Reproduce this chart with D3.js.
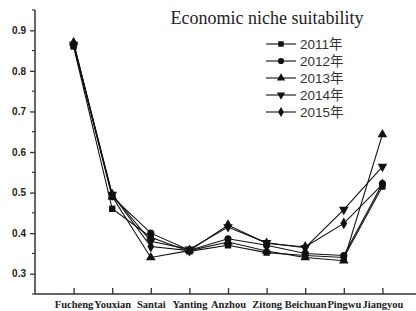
<!DOCTYPE html>
<html>
<head>
<meta charset="utf-8">
<script src="https://cdn.jsdelivr.net/npm/d3@7"></script>
<style>
  body { margin: 0; background: #fff; }
  svg { display: block; }
</style>
</head>
<body>
<script>
// counties along the x axis
var counties = ["Fucheng", "Youxian", "Santai", "Yanting", "Anzhou", "Zitong", "Beichuan", "Pingwu", "Jiangyou"];

var years = ["2011年", "2012年", "2013年", "2014年", "2015年"];

var v2011 = [0.860, 0.460, 0.390, 0.355, 0.370, 0.352, 0.345, 0.340, 0.515];
var v2012 = [0.862, 0.490, 0.400, 0.358, 0.386, 0.370, 0.350, 0.345, 0.522];
var v2013 = [0.870, 0.490, 0.340, 0.357, 0.378, 0.356, 0.340, 0.332, 0.643];
var v2014 = [0.865, 0.495, 0.380, 0.360, 0.415, 0.376, 0.364, 0.458, 0.564];
var v2015 = [0.868, 0.495, 0.367, 0.357, 0.420, 0.375, 0.366, 0.424, 0.520];

var yTicks = [0.3, 0.4, 0.5, 0.6, 0.7, 0.8, 0.9];
var yMinor = [0.25, 0.35, 0.45, 0.55, 0.65, 0.75, 0.85, 0.95];

var series = [v2011, v2012, v2013, v2014, v2015];
var shapes = [d3.symbolSquare, d3.symbolCircle, d3.symbolTriangle, d3.symbolTriangle, d3.symbolDiamond];

var W = 416, H = 311;
var margin = {left: 35, top: 10, right: 0, bottom: 17};

var svg = d3.select("body").append("svg")
  .attr("width", W)
  .attr("height", H);

var x = d3.scaleLinear()
  .domain([0, 10])
  .range([margin.left, margin.left + 386]);

var y = d3.scaleLinear()
  .domain([0.25, 0.95])
  .range([H - margin.bottom, margin.top]);

// y axis: majors with labels, minors without, ticks pointing out
svg.append("g")
  .attr("transform", "translate(" + margin.left + ",0)")
  .call(d3.axisLeft(y).tickValues(yTicks).tickSize(5).tickPadding(4).tickFormat(d3.format(".1f")))
  .call(function(g) {
    g.select(".domain").attr("stroke", "#333").attr("stroke-width", 1.5).attr("d", "M0," + y(0.25) + "V" + y(0.95));
    g.selectAll(".tick line").attr("stroke", "#333").attr("stroke-width", 1.3);
    g.selectAll(".tick text")
      .attr("font-family", "Liberation Sans, Arial, sans-serif")
      .attr("font-weight", "bold")
      .attr("font-size", 10)
      .attr("fill", "#222");
  });

svg.append("g")
  .selectAll("line")
  .data(yMinor)
  .enter()
    .append("line")
      .attr("x1", margin.left - 3)
      .attr("x2", margin.left)
      .attr("y1", function(d) { return y(d); })
      .attr("y2", function(d) { return y(d); })
      .attr("stroke", "#333")
      .attr("stroke-width", 1.2);

// x axis: ticks pointing inward (up)
svg.append("g")
  .attr("transform", "translate(0," + y(0.25) + ")")
  .call(d3.axisBottom(x).tickValues(d3.range(1, 10)).tickSize(-6).tickPadding(5)
    .tickFormat(function(d) { return counties[d - 1]; }))
  .call(function(g) {
    g.select(".domain").attr("stroke", "#333").attr("stroke-width", 1.5).attr("d", "M" + margin.left + ",0H" + W);
    g.selectAll(".tick text")
      .attr("y", 7)
      .attr("font-family", "Liberation Serif, Times New Roman, serif")
      .attr("font-weight", "bold")
      .attr("font-size", 10.5)
      .attr("fill", "#222");
    g.selectAll(".tick line").attr("stroke", "#333").attr("stroke-width", 1.3);
  });

var line = d3.line()
  .x(function(d, i) { return x(i + 1); })
  .y(function(d) { return y(d); });

function symbolPath(k, size) {
  return d3.symbol().type(shapes[k]).size(size)();
}

function symbolRotate(k) {
  return k == 3 ? " rotate(180)" : "";
}

series.forEach(function(s, k) {
  svg.append("path")
    .datum(s)
    .attr("d", line)
    .attr("fill", "none")
    .attr("stroke", "#111")
    .attr("stroke-width", 1.1);

  svg.append("g")
    .selectAll("path")
    .data(s)
    .enter()
      .append("path")
        .attr("d", symbolPath(k, 40))
        .attr("transform", function(d, i) {
          return "translate(" + x(i + 1) + "," + y(d) + ")" + symbolRotate(k);
        })
        .attr("fill", "#111");
});

// title
svg.append("text")
  .attr("x", 267)
  .attr("y", 24)
  .attr("text-anchor", "middle")
  .attr("font-family", "Liberation Serif, Times New Roman, serif")
  .attr("font-size", 18)
  .attr("fill", "#222")
  .text("Economic niche suitability");

// legend
var legend = svg.append("g")
  .selectAll("g")
  .data(years)
  .enter()
    .append("g")
      .attr("transform", function(d, i) { return "translate(266," + (44 + i * 17) + ")"; });

legend.append("line")
  .attr("x1", 0)
  .attr("x2", 30)
  .attr("stroke", "#111")
  .attr("stroke-width", 1.1);

legend.append("path")
  .attr("d", function(d, i) { return symbolPath(i, 30); })
  .attr("transform", function(d, i) { return "translate(15,0)" + symbolRotate(i); })
  .attr("fill", "#111");

legend.append("text")
  .attr("x", 34)
  .attr("y", 4.5)
  .attr("font-family", "Liberation Sans, Arial, 'Noto Sans CJK SC', sans-serif")
  .attr("font-size", 13.5)
  .attr("fill", "#333")
  .text(function(d) { return d; });
</script>
</body>
</html>
